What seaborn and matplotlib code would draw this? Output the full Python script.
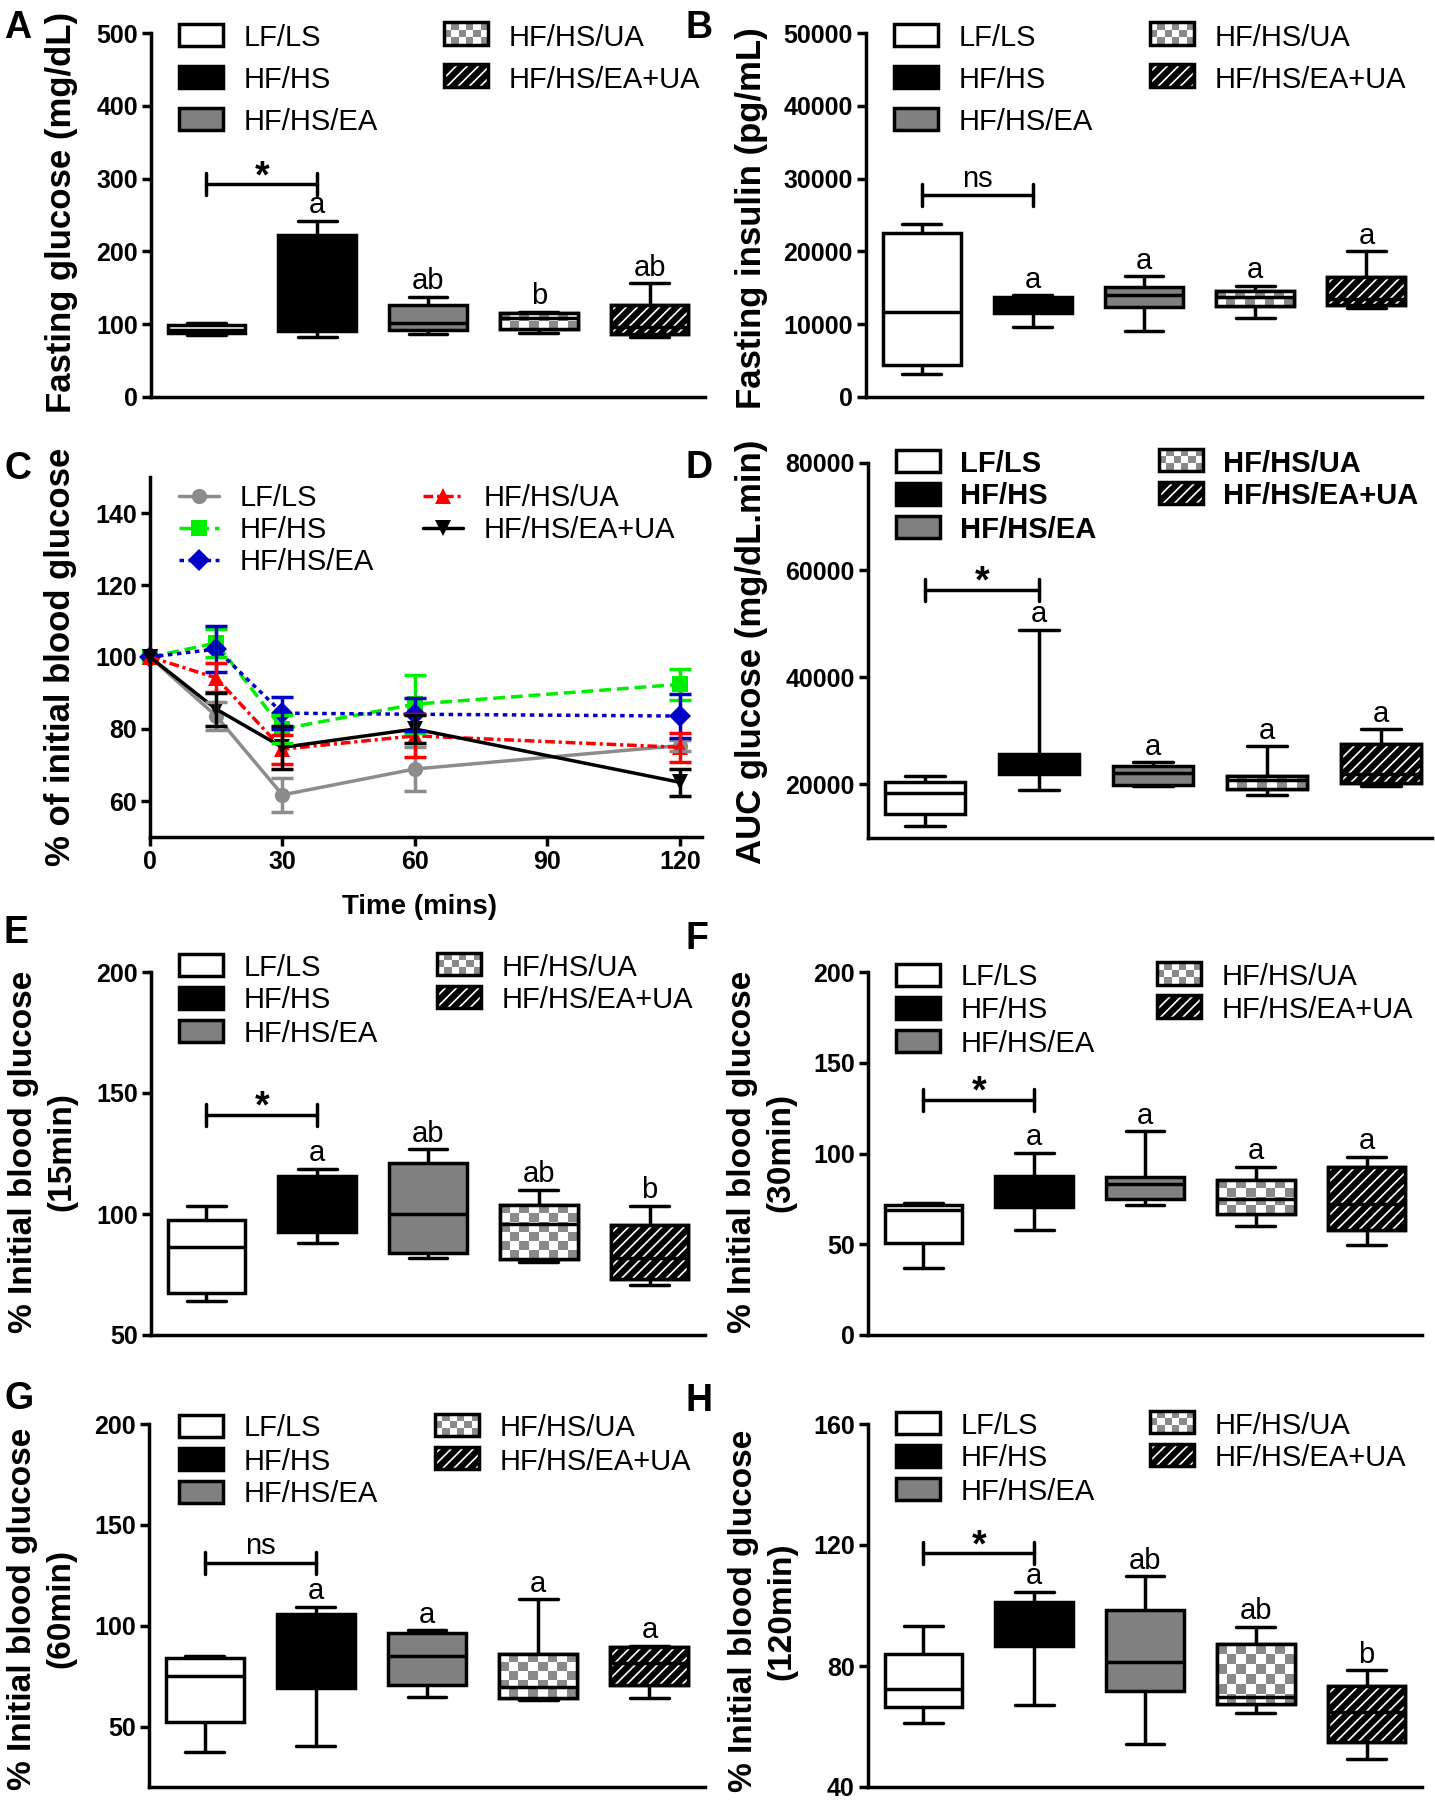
import numpy as np
import pandas as pd
import matplotlib
matplotlib.use("Agg")
import matplotlib.pyplot as plt
import matplotlib.patches as mpatches
from matplotlib.lines import Line2D
from matplotlib.colors import ListedColormap
from matplotlib.transforms import offset_copy
import seaborn as sns

W, H = 1435, 1800
LW = 2.5

groups = ["LF/LS", "HF/HS", "HF/HS/EA", "HF/HS/UA", "HF/HS/EA+UA"]
fills = ["white", "black", "#808080", "white", "black"]

# five-number summaries per group: min, q1, median, q3, max
fasting_glucose = [[85, 88, 92, 99, 101], [83, 90, 130, 223, 242], [87, 92, 101, 127, 138],
                   [88, 94, 108, 115, 117], [83, 87, 96, 127, 156]]
fasting_insulin = [[3200, 4400, 11700, 22500, 23800], [9600, 11600, 12600, 13800, 14000],
                   [9000, 12400, 14000, 15100, 16600], [10800, 12500, 13800, 14600, 15300],
                   [12200, 12600, 13500, 16500, 20000]]
auc_glucose = [[12200, 14500, 18400, 20500, 21500], [18900, 21900, 24000, 25600, 48900],
               [19700, 19800, 22200, 23500, 24200], [18000, 19100, 20900, 21500, 27100],
               [19700, 20300, 21900, 27500, 30300]]
glucose_15 = [[64, 67.5, 86.5, 97.5, 103.4], [88, 92.7, 105, 115.6, 118.8], [82, 83.7, 100.2, 120.9, 126.7],
              [80, 81.2, 95.8, 103.7, 110], [70.6, 73, 82, 95.4, 103.4]]
glucose_30 = [[36.7, 50.8, 68.8, 71.6, 72.8], [57.8, 70.3, 78, 87.7, 100.4], [71.6, 74.7, 83, 87.2, 112.3],
              [60.2, 66.4, 75.2, 85.3, 92.7], [49.5, 57.8, 72.1, 92.7, 98.2]]
glucose_60 = [[37.6, 52, 74.8, 83.9, 85.2], [40.1, 69, 90, 105.8, 109.5], [64.5, 70.6, 85, 96.6, 97.9],
              [63.2, 64, 69.8, 86, 113.1], [64, 70.6, 81.4, 89.3, 90]]
glucose_120 = [[61, 66.5, 72.5, 84.1, 93.2], [67, 86.5, 95, 101.2, 104.5], [54.3, 71.8, 81.4, 98.5, 109.7],
               [64.3, 67.6, 69.8, 87.2, 93], [49.4, 54.9, 64.8, 73.3, 78.6]]

letters_a = ["", "a", "ab", "b", "ab"]
letters_all_a = ["", "a", "a", "a", "a"]
letters_e = ["", "a", "ab", "ab", "b"]

# OGTT curves (mean, sem)
time_min = [0, 15, 30, 60, 120]
ogtt_mean = {
    "LF/LS": [100, 83.6, 61.7, 68.9, 75.4],
    "HF/HS": [100, 103.9, 80, 86.9, 92.4],
    "HF/HS/EA": [100, 102.2, 84.4, 84.1, 83.6],
    "HF/HS/UA": [100, 94.2, 74.4, 78.1, 74.9],
    "HF/HS/EA+UA": [100, 85.5, 74.9, 80, 65.2],
}
ogtt_sem = {
    "LF/LS": [0, 4, 4.8, 6, 1.5],
    "HF/HS": [0, 4, 4, 8, 4.4],
    "HF/HS/EA": [0, 6.4, 4.4, 4.6, 6.2],
    "HF/HS/UA": [0, 4, 4, 6, 4],
    "HF/HS/EA+UA": [0, 4.6, 6, 4, 3.7],
}
line_colors = {"LF/LS": "#8c8c8c", "HF/HS": "#00ee00", "HF/HS/EA": "#0000c8",
               "HF/HS/UA": "#ff0000", "HF/HS/EA+UA": "black"}
line_dashes = {"LF/LS": "", "HF/HS": (3.4, 1.7), "HF/HS/EA": (1.3, 1.3),
               "HF/HS/UA": (2.8, 1.1, 0.9, 1.1), "HF/HS/EA+UA": ""}
line_markers = {"LF/LS": "o", "HF/HS": "s", "HF/HS/EA": "D", "HF/HS/UA": "^", "HF/HS/EA+UA": "v"}

sns.set_style("ticks", {"axes.edgecolor": "black", "xtick.color": "black", "ytick.color": "black",
                        "text.color": "black", "axes.labelcolor": "black"})
plt.rcParams["font.family"] = ["Liberation Sans", "DejaVu Sans"]
plt.rcParams["hatch.linewidth"] = 1.2

fig = plt.figure(figsize=(W / 100, H / 100), dpi=100)


def add_axes(left, top, right, bottom):
    return fig.add_axes([left / W, 1 - bottom / H, (right - left) / W, (bottom - top) / H])


def fx(x):
    return x / W


def fy(y):
    return 1 - y / H


class CheckerHandler:
    def legend_artist(self, legend, orig_handle, fontsize, handlebox):
        x0, y0 = handlebox.xdescent, handlebox.ydescent
        w, h = handlebox.width, handlebox.height
        tr = handlebox.get_transform()
        handlebox.add_artist(mpatches.Rectangle((x0, y0), w, h, fc="white", lw=0, transform=tr))
        nx, ny = 6, 3
        for i in range(nx):
            for j in range(ny):
                if (i + j) % 2:
                    handlebox.add_artist(mpatches.Rectangle((x0 + i * w / nx, y0 + j * h / ny), w / nx, h / ny,
                                                            fc="#8a8a8a", lw=0, transform=tr))
        border = mpatches.Rectangle((x0, y0), w, h, fc="none", ec="black", lw=LW, transform=tr)
        handlebox.add_artist(border)
        return border


class HatchHandler:
    def legend_artist(self, legend, orig_handle, fontsize, handlebox):
        x0, y0 = handlebox.xdescent, handlebox.ydescent
        w, h = handlebox.width, handlebox.height
        tr = handlebox.get_transform()
        handlebox.add_artist(mpatches.Rectangle((x0, y0), w, h, fc="black", lw=0, transform=tr))
        handlebox.add_artist(mpatches.Rectangle((x0, y0), w, h, fc="none", ec="white", hatch="///",
                                                lw=0, transform=tr))
        border = mpatches.Rectangle((x0, y0), w, h, fc="none", ec="black", lw=LW, transform=tr)
        handlebox.add_artist(border)
        return border


def two_legends(ax, handles, x1, x2, y0, dy, hmap=None, bold=False, hl=44, hh=23):
    fs = 21
    fspx = fs * 100 / 72
    rowh = 27
    prop = {"size": fs, "weight": "bold" if bold else "normal"}
    kw = dict(loc="upper left", bbox_transform=fig.transFigure, frameon=False, borderpad=0,
              borderaxespad=0, handlelength=hl / fspx, handleheight=hh / fspx, handletextpad=0.7,
              labelspacing=(dy - rowh) / fspx, prop=prop, handler_map=hmap or {})
    top = fy(y0 - rowh / 2)
    leg1 = ax.legend(handles[:3], groups[:3], bbox_to_anchor=(fx(x1), top), **kw)
    ax.add_artist(leg1)
    ax.legend(handles[3:], groups[3:], bbox_to_anchor=(fx(x2), top), **kw)


def box_panel(ax, summary, ylim, yticks, letters, sig, sig_y, legend_pos, bold_legend=False,
              xlim=(-0.5, 4.5)):
    df = pd.DataFrame({"group": np.repeat(groups, 5), "value": np.concatenate(summary)})
    sns.boxplot(data=df, x="group", y="value", hue="group", order=groups, hue_order=groups,
                palette=dict(zip(groups, fills)), saturation=1, linecolor="black", linewidth=LW,
                width=0.7, whis=(0, 100), legend=False, ax=ax)
    ax.set_xlim(*xlim)
    ax.set_ylim(*ylim)
    ax.set_xlabel("")
    ax.set_ylabel("")
    ax.set_yticks(yticks, labels=[str(t) for t in yticks])
    for lbl in ax.get_yticklabels():
        lbl.set_fontweight("bold")
    ax.tick_params(axis="x", bottom=False, labelbottom=False)
    ax.tick_params(axis="y", width=LW, length=6.5, pad=3, labelsize=18)
    ax.spines[["top", "right"]].set_visible(False)
    ax.spines[["left", "bottom"]].set_linewidth(LW)

    boxes = sorted(ax.patches, key=lambda p: p.get_path().vertices[:, 0].mean())
    # checkered fill for UA, white hatching for EA+UA
    for i in (3, 4):
        patch = boxes[i]
        z = patch.get_zorder()
        x0, x1 = i - 0.35, i + 0.35
        y0, y1 = summary[i][1], summary[i][3]
        if i == 3:
            (px0, py0), (px1, py1) = ax.transData.transform([(x0, y0), (x1, y1)])
            nx = max(1, int(round((px1 - px0) / 9.5)))
            ny = max(1, int(round((py1 - py0) / 9.5)))
            grid = np.add.outer(np.arange(ny), np.arange(nx)) % 2
            over = ax.imshow(grid, extent=(x0, x1, y0, y1), cmap=ListedColormap(["white", "#8a8a8a"]),
                             aspect="auto", interpolation="nearest", origin="lower", zorder=z + 0.01)
        else:
            over = mpatches.Rectangle((x0, y0), x1 - x0, y1 - y0, fc="none", ec="white", hatch="///",
                                      lw=0, zorder=z + 0.01)
            ax.add_patch(over)
        over.set_clip_path(patch)
        ax.add_patch(mpatches.PathPatch(patch.get_path(), transform=patch.get_transform(), fc="none",
                                        ec="black", lw=LW, zorder=z + 0.02))
    ax.set_xlim(*xlim)
    ax.set_ylim(*ylim)

    up = offset_copy(ax.transData, fig=fig, y=1, units="points")
    for i, lab in enumerate(letters):
        if lab:
            ax.text(i, summary[i][4], lab, ha="center", va="bottom", fontsize=21, transform=up)

    half = 11 / (ax.get_position().height * H) * (ylim[1] - ylim[0])
    ax.plot([0, 1], [sig_y, sig_y], color="black", lw=LW)
    ax.plot([0, 0], [sig_y - half, sig_y + half], color="black", lw=LW)
    ax.plot([1, 1], [sig_y - half, sig_y + half], color="black", lw=LW)
    if sig == "*":
        ax.text(0.5, sig_y, "*", ha="center", va="baseline", fontsize=27, fontweight="bold",
                transform=offset_copy(ax.transData, fig=fig, y=-2, units="points"))
    else:
        ax.text(0.5, sig_y, sig, ha="center", va="baseline", fontsize=21,
                transform=offset_copy(ax.transData, fig=fig, y=6, units="points"))

    handles = [mpatches.Patch(fc=c, ec="black", lw=LW) for c in fills[:3]]
    h_check = mpatches.Patch(fc="white")
    h_hatch = mpatches.Patch(fc="black")
    handles += [h_check, h_hatch]
    two_legends(ax, handles, *legend_pos, hmap={h_check: CheckerHandler(), h_hatch: HatchHandler()},
                bold=bold_legend)


# ---- box panels
ax_a = add_axes(151, 33, 705, 397)
box_panel(ax_a, fasting_glucose, (0, 500), [0, 100, 200, 300, 400, 500], letters_a, "*", 292,
          (179, 444, 37, 41))
ax_b = add_axes(866, 33, 1422, 397)
box_panel(ax_b, fasting_insulin, (0, 50000), [0, 10000, 20000, 30000, 40000, 50000], letters_all_a,
          "ns", 27750, (894, 1150, 37, 41))
ax_d = add_axes(868, 463, 1432, 838)
box_panel(ax_d, auc_glucose, (10000, 80000), [20000, 40000, 60000, 80000], letters_all_a, "*", 56370,
          (896, 1159, 463, 32), bold_legend=True, xlim=(-0.5, 4.45))
ax_e = add_axes(151, 972, 705, 1335)
box_panel(ax_e, glucose_15, (50, 200), [50, 100, 150, 200], letters_e, "*", 141.1, (179, 437, 967, 32))
ax_f = add_axes(868, 972, 1422, 1335)
box_panel(ax_f, glucose_30, (0, 200), [0, 50, 100, 150, 200], letters_all_a, "*", 129.4,
          (896, 1157, 977, 32))
ax_g = add_axes(149, 1424, 705, 1787)
box_panel(ax_g, glucose_60, (20, 200), [50, 100, 150, 200], letters_all_a, "ns", 131.3,
          (179, 435, 1428, 32))
ax_h = add_axes(868, 1424, 1422, 1787)
box_panel(ax_h, glucose_120, (40, 160), [40, 80, 120, 160], letters_e, "*", 117.2, (896, 1150, 1425, 32))

# ---- panel C: OGTT curves
ax_c = add_axes(150, 477, 702, 837)
ogtt = pd.DataFrame([(t, g, m) for g in groups for t, m in zip(time_min, ogtt_mean[g])],
                    columns=["time", "group", "value"])
sns.lineplot(data=ogtt, x="time", y="value", hue="group", style="group", hue_order=groups,
             style_order=groups, palette=line_colors, dashes=line_dashes, markers=line_markers,
             markersize=11, markeredgewidth=0, linewidth=LW, errorbar=None, legend=False, ax=ax_c)
for g in groups:
    t = np.array(time_min)
    m = np.array(ogtt_mean[g])
    e = np.array(ogtt_sem[g])
    keep = e > 0
    ax_c.errorbar(t[keep], m[keep], yerr=e[keep], fmt="none", ecolor=line_colors[g], elinewidth=LW,
                  capsize=8, capthick=LW, clip_on=False)
for ln in ax_c.lines:
    ln.set_clip_on(False)
ax_c.set_xlim(0, 125)
ax_c.set_ylim(50, 150)
ax_c.set_xticks([0, 30, 60, 90, 120], labels=["0", "30", "60", "90", "120"])
ax_c.set_yticks([60, 80, 100, 120, 140], labels=["60", "80", "100", "120", "140"])
for lbl in ax_c.get_xticklabels() + ax_c.get_yticklabels():
    lbl.set_fontweight("bold")
ax_c.tick_params(width=LW, length=6.5, pad=3, labelsize=18)
ax_c.set_xlabel("")
ax_c.set_ylabel("")
ax_c.spines[["top", "right"]].set_visible(False)
ax_c.spines[["left", "bottom"]].set_linewidth(LW)
c_handles = []
for g in groups:
    ls = "-" if line_dashes[g] == "" else (0, line_dashes[g])
    c_handles.append(Line2D([], [], color=line_colors[g], lw=LW, linestyle=ls, marker=line_markers[g],
                            markersize=11, markeredgewidth=0))
two_legends(ax_c, c_handles, 179, 423, 498, 31, hl=40)
fig.text(fx(419), fy(907), "Time (mins)", ha="center", va="center", fontsize=20, fontweight="bold")

# ---- y labels
ylabels = [
    ("Fasting glucose (mg/dL)", 62, 212, 25),
    ("Fasting insulin (pg/mL)", 752, 218, 25),
    ("% of initial blood glucose", 61, 657, 25),
    ("AUC glucose (mg/dL.min)", 752, 652, 25),
    ("% Initial blood glucose\n(15min)", 43, 1152, 24),
    ("% Initial blood glucose\n(30min)", 762, 1152, 24),
    ("% Initial blood glucose\n(60min)", 42, 1609, 24),
    ("% Initial blood glucose\n(120min)", 763, 1611, 24),
]
for text, x, y, size in ylabels:
    fig.text(fx(x), fy(y), text, rotation=90, ha="center", va="center", fontsize=size,
             fontweight="bold", linespacing=1.3, multialignment="center")

# ---- panel letters
panel_letters = [("A", 4, 10), ("B", 686, 10), ("C", 4, 451), ("D", 686, 450),
                 ("E", 4, 915), ("F", 686, 921), ("G", 4, 1381), ("H", 686, 1383)]
for lab, x, y in panel_letters:
    fig.text(fx(x), fy(y), lab, ha="left", va="top", fontsize=27, fontweight="bold")

fig.savefig("out.png", dpi=100)
